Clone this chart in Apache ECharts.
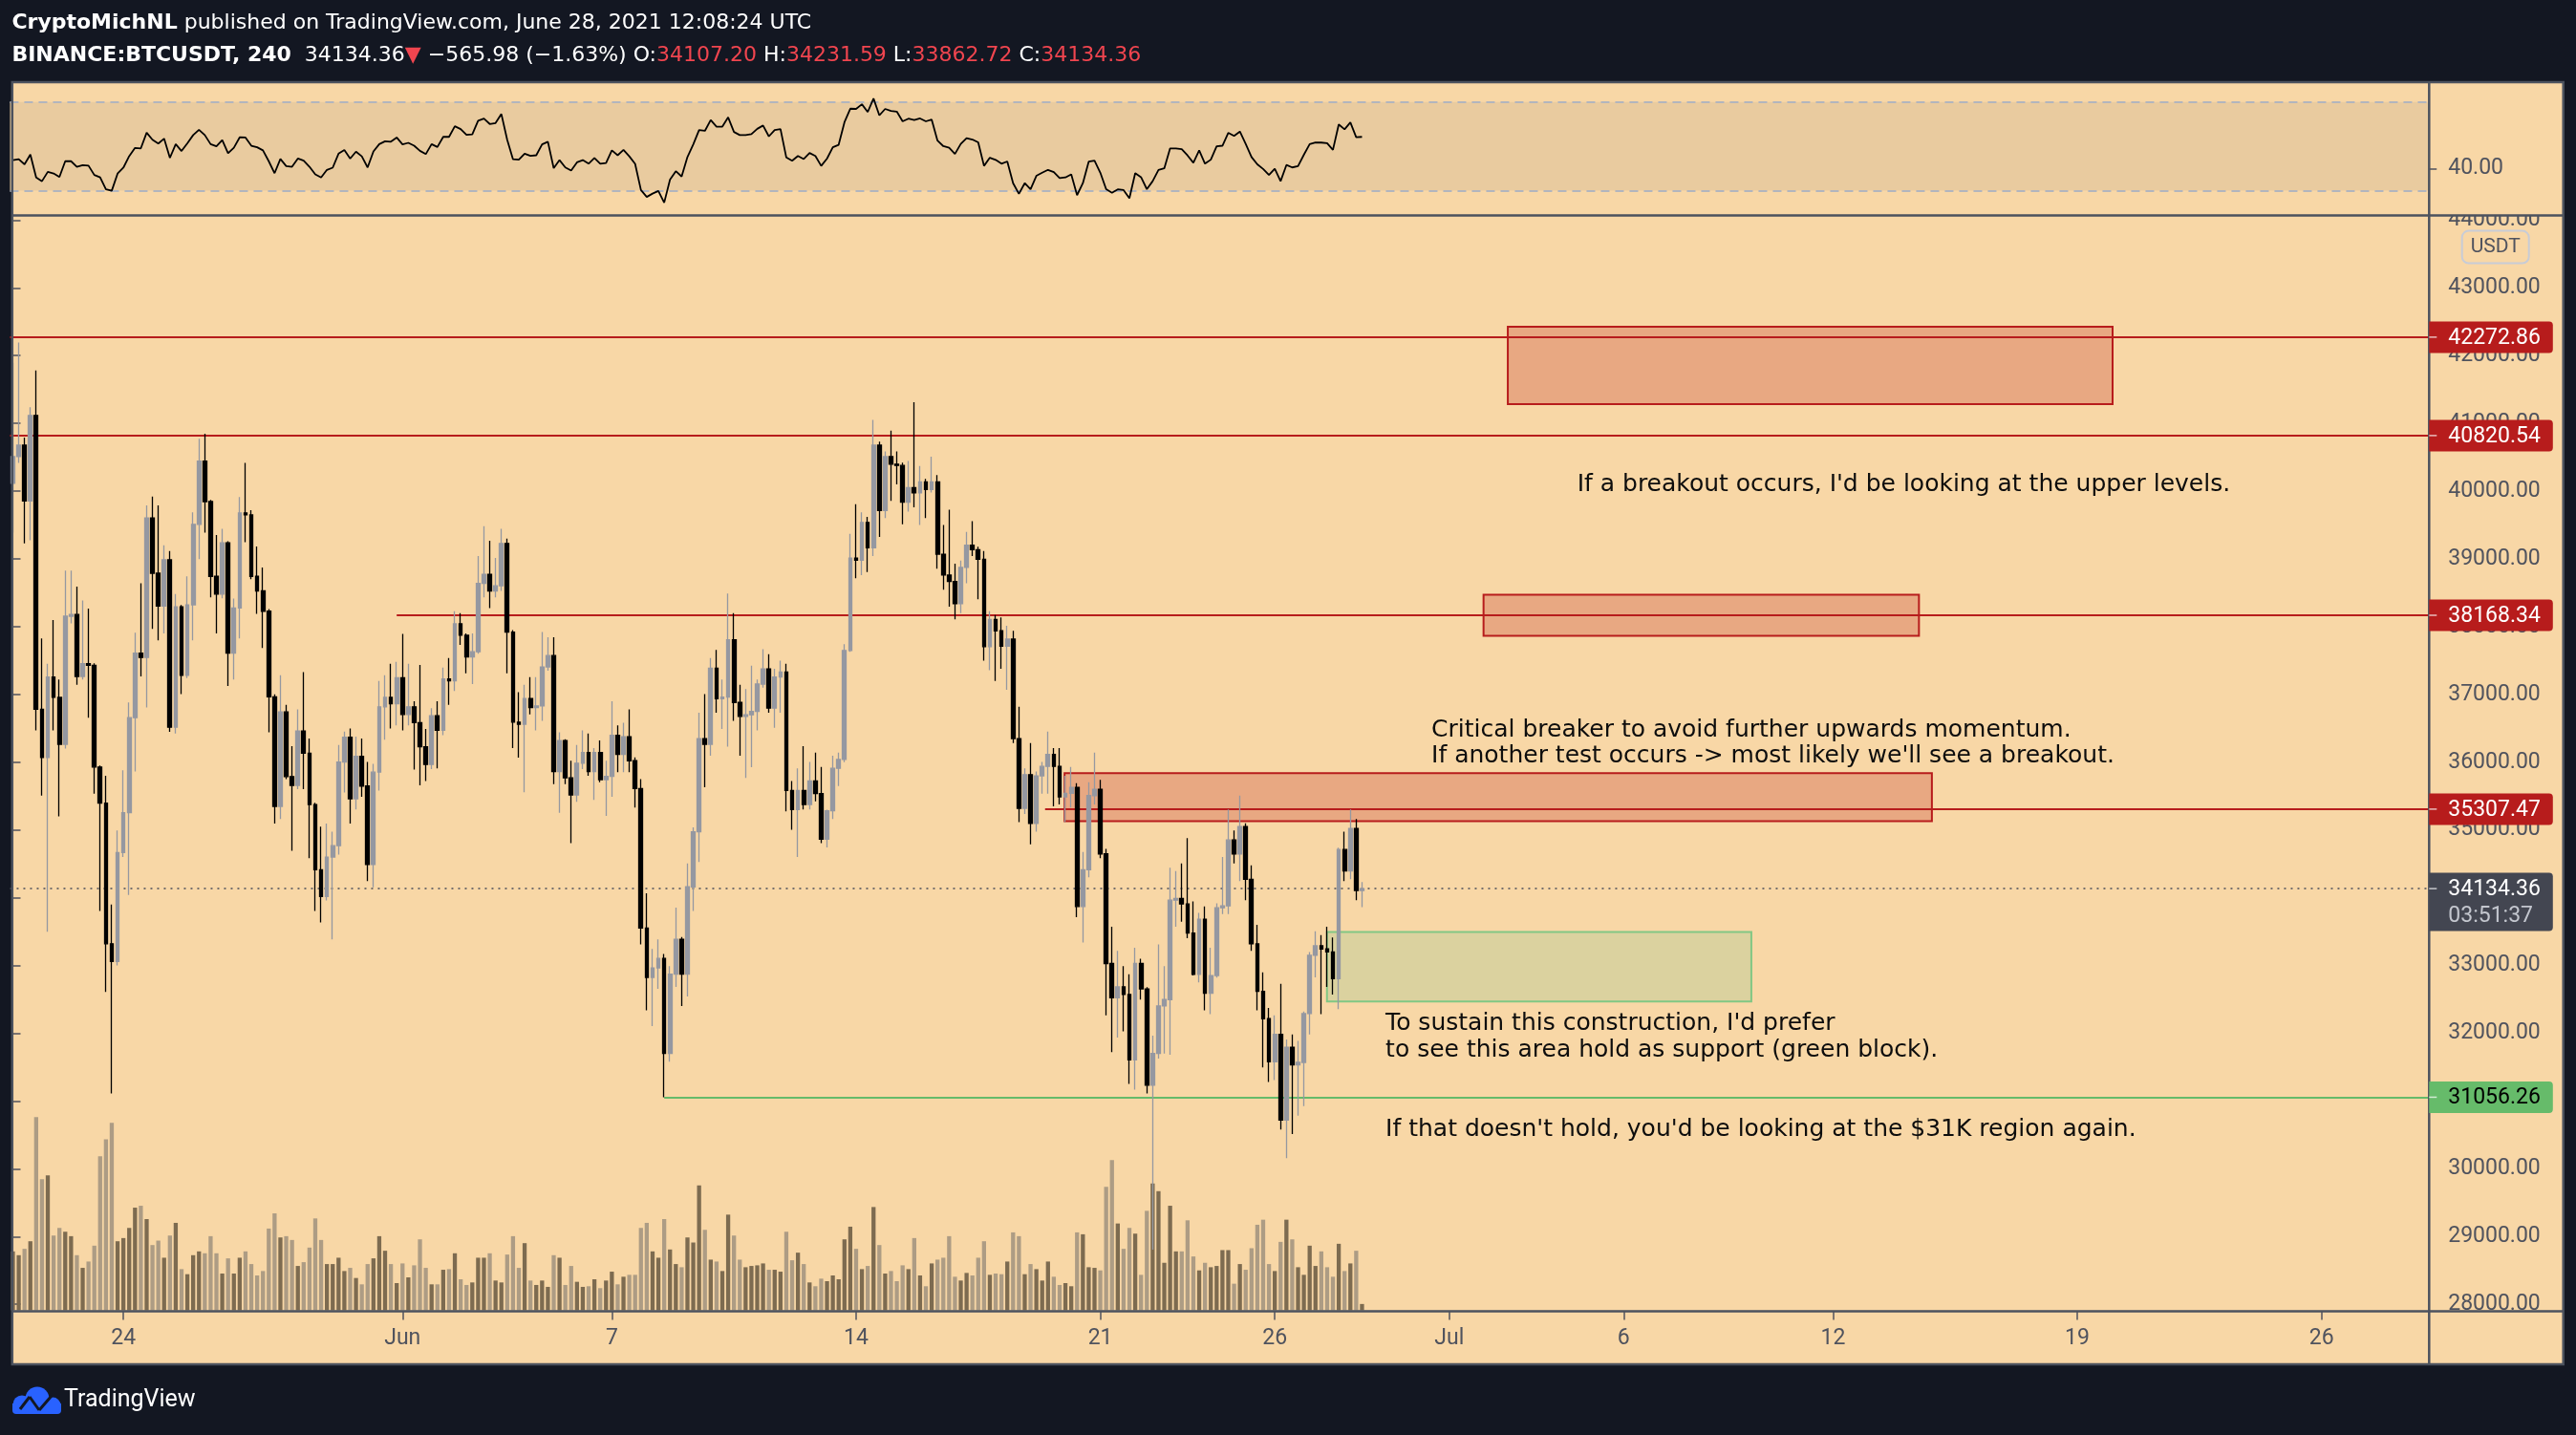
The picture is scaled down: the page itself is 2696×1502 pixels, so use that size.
<!DOCTYPE html>
<html>
<head>
<meta charset="utf-8">
<script src="https://cdn.jsdelivr.net/npm/echarts@6/dist/echarts.min.js"></script>
<style>
html,body{margin:0;padding:0;background:#131722;overflow:hidden;}
#c{width:2696px;height:1502px;}
</style>
</head>
<body>
<div id="c"></div>
<script>
// ---------------- DATA ----------------
const startTime = '2021-05-20 20:00';   // first 4h candle (UTC)
const barHours = 4;

const opens = [
40117,40510,40678,39856,41118,36780,36069,37256,36957,36265,
38154,38180,37266,37453,37430,35929,35396,33320,33058,34666,
35255,36658,37611,37545,39603,38789,38303,38986,36517,38294,
37284,38322,39510,40445,39846,38743,38481,39238,37611,38275,
39678,39650,38743,38528,38228,36966,35348,36742,35788,35657,
36461,36134,35376,34413,34020,34600,34768,36003,36367,35461,
36087,35648,34489,35854,36817,36957,36864,37247,36705,36817,
36583,36228,35966,36686,36471,37228,37200,38042,37873,37555,
37630,38640,38771,38528,38603,39229,37920,36592,36560,36938,
36807,36830,37406,37574,35863,36321,35769,35517,35985,36143,
35863,36143,35742,35790,36396,36116,36377,36022,35610,33553,
32824,32964,33104,31702,32871,33385,32871,34161,34974,36349,
36265,37387,36938,36960,37808,36882,36676,36700,36751,37153,
37378,36798,37256,37331,35582,35302,35582,35377,35723,35536,
34863,35283,35910,36041,37649,39014,38980,39538,39164,40678,
39715,40510,40398,40380,39837,40052,39977,40136,40024,40136,
39070,38762,38668,38341,38874,39201,39136,38995,37705,38107,
37939,37714,37817,36349,35320,35816,35096,35798,35938,36115,
35938,35489,35540,35629,33871,34413,35507,35601,34647,33029,
32524,32684,32572,31608,33029,32655,31234,31702,32403,32497,
33965,33990,33908,33478,32870,33684,32590,32852,33852,33880,
34853,34647,35049,34273,33319,32618,32215,31580,31982,30720,
31795,31533,31570,32290,33150,33291,33244,33200,32805,34712,
34394,35021,34107.20];

const closes = [
40510,40678,39856,41118,36780,36069,37256,36957,36265,38154,
38180,37266,37453,37430,35929,35396,33320,33058,34666,35255,
36658,37611,37545,39603,38789,38303,38986,36517,38294,37284,
38322,39510,40445,39846,38743,38481,39238,37611,38275,39678,
39650,38743,38528,38228,36966,35348,36742,35788,35657,36461,
36134,35376,34413,34020,34600,34768,36003,36367,35461,36087,
35648,34489,35854,36817,36957,36864,37247,36705,36817,36583,
36228,35966,36686,36471,37228,37200,38042,37873,37555,37630,
38640,38771,38528,38603,39229,37920,36592,36560,36938,36807,
36830,37406,37574,35863,36321,35769,35517,35985,36143,35863,
36143,35742,35790,36396,36116,36377,36022,35610,33553,32824,
32964,33104,31702,32871,33385,32871,34161,34974,36349,36265,
37387,36938,36960,37808,36882,36676,36700,36751,37153,37378,
36798,37256,37331,35582,35302,35582,35377,35723,35536,34863,
35283,35910,36041,37649,39014,38980,39538,39164,40678,39715,
40510,40398,40380,39837,40052,39977,40136,40024,40136,39070,
38762,38668,38341,38874,39201,39136,38995,37705,38107,37939,
37714,37817,36349,35320,35816,35096,35798,35938,36115,35938,
35489,35540,35629,33871,34413,35507,35601,34647,33029,32524,
32684,32572,31608,33029,32655,31234,31702,32403,32497,33965,
33990,33908,33478,32870,33684,32590,32852,33852,33880,34853,
34647,35049,34273,33319,32618,32215,31580,31982,30720,31795,
31533,31570,32290,33150,33291,33244,33200,32805,34712,34394,
35021,34107.20,34134.36];

const lows = [
39388,40417,39229,39276,36471,35508,33498,36471,35199,36200,
38050,37144,37220,36658,35536,33806,32609,31113,33000,34600,
34040,35863,37266,36807,37966,37798,37900,36450,36424,37004,
37240,37798,38995,39388,38434,37901,38420,37125,37219,37826,
39248,38700,38191,37686,36442,35096,35161,35750,34694,35601,
35601,34582,33806,33637,33960,33385,34638,35554,35096,35302,
35489,34246,34152,35582,36331,36499,36545,36471,36545,35891,
35657,35723,35900,35910,36400,36845,37051,37733,37312,37153,
37600,38434,38275,38434,38528,37312,36209,36069,35555,36705,
36471,36611,37350,35676,35255,35676,34807,35414,35900,35798,
35442,35704,35209,35489,35854,35854,35854,35330,33310,32337,
32104,32656,31056,31580,32684,32403,32543,33806,34526,35629,
36097,36732,36489,36228,36611,36097,35769,35928,36471,37100,
36732,36508,36732,35274,35003,34601,35302,35302,35424,34807,
34741,35162,35648,36000,37630,38715,38762,38808,39042,39323,
39603,39856,40099,39510,39697,39762,39500,39603,39980,38855,
38547,38294,38107,38201,38640,39042,38406,37499,37359,37200,
37378,37069,36284,35115,35236,34788,34975,35536,35536,35348,
35377,35115,35330,33712,33338,34301,35376,34582,32263,31720,
31936,32029,31253,31168,32496,31113,28805,31627,31702,31683,
33572,33647,33403,32852,32749,32337,32281,32820,33758,33758,
34507,34245,33964,33216,32337,31495,31280,31309,30579,30158,
30513,30785,30925,31982,32824,32281,32684,32571,32356,34245,
34273,33964,33862.72];

const highs = [
41894,42193,40791,41239,41782,37827,37453,38098,37219,38827,
38827,38593,38388,38266,37460,35950,35798,33900,34994,35882,
36882,37911,38640,39790,39921,39790,39201,39117,38481,38320,
38743,39687,40772,40847,39870,39351,39444,39260,38415,39912,
40417,39720,39182,38874,38260,37000,37284,36845,36237,36779,
37331,36349,35400,35049,35096,34974,36255,36452,36498,36377,
36349,36003,35975,37200,37284,37453,37481,37892,37453,36900,
37434,36489,36798,36901,37396,37536,38229,38200,37900,37901,
39042,39482,39267,39014,39444,39300,37950,37032,37144,37256,
37256,37920,37845,37845,36442,36340,36022,36255,36471,36424,
36209,36321,36022,36901,36545,36583,36779,36070,35751,34067,
33245,33385,33170,32992,33853,33420,34507,35040,36732,37004,
37537,37658,37219,38490,38201,37144,37079,37425,37219,37668,
37593,37378,37499,37453,35723,35910,36237,36003,36143,35929,
35300,36097,36143,37743,39369,39809,39687,39622,41052,40730,
40585,40894,40585,40420,40445,41314,40370,40180,40510,40239,
39500,39725,38930,38977,39397,39556,39180,39117,38229,38173,
38135,38014,37939,36817,35910,36284,35863,36003,36452,36209,
36209,35798,35929,35690,34675,35704,36143,35741,34722,33572,
33217,32992,32871,33263,33100,32680,31964,33310,32992,34441,
34395,34507,34881,33946,33777,33871,33263,33917,34600,35302,
34993,35507,35100,34479,33599,32898,32374,32263,32730,31907,
31982,31888,32320,33197,33506,33450,33572,33413,34740,34974,
35302,35162,34231.59];

// volume (relative units, hundreds of BTC)
const volumes = [
93,87,97,109,305,207,213,118,130,124,
117,87,67,77,102,243,270,296,109,114,
130,162,165,144,103,110,83,118,138,65,
57,87,93,90,117,90,58,82,58,83,
93,73,55,62,129,153,115,117,111,70,
76,99,145,111,73,73,83,62,67,51,
41,73,82,117,94,73,43,74,52,71,
112,67,41,41,64,65,90,49,40,44,
83,83,90,47,44,88,117,67,106,47,
40,47,37,87,83,40,70,45,37,38,
49,35,47,61,41,53,56,56,130,138,
93,83,144,96,73,68,115,107,197,127,
80,77,62,151,118,80,68,70,71,74,
64,64,61,124,79,91,73,44,38,50,
46,55,49,112,132,97,65,70,163,103,
58,62,46,71,65,114,55,38,74,80,
83,117,53,47,59,55,83,109,56,58,
57,77,123,117,57,73,65,47,77,53,
40,43,38,123,120,68,67,63,195,237,
137,97,130,121,56,157,200,188,75,165,
93,93,142,85,63,75,68,70,95,95,
42,73,64,98,135,143,73,62,108,143,
112,68,56,102,70,93,68,53,105,62,
74,94,10];

// RSI(14)
const rsi = [
43.8,44.2,41.9,46.3,36.0,34.3,38.5,37.8,36.2,43.3,
43.3,40.8,41.5,41.3,37.1,36.0,30.6,30.0,37.7,40.4,
45.6,49.3,49.1,56.2,53.0,51.3,53.5,44.8,51.0,47.9,
51.4,55.1,57.5,55.1,51.0,50.0,52.8,46.9,49.4,54.1,
54.0,50.3,49.6,48.2,43.3,37.9,44.3,41.1,40.8,44.5,
43.6,40.8,37.4,36.0,39.4,40.4,46.7,48.4,44.5,47.6,
45.5,40.5,47.7,51.0,52.3,52.1,54.0,50.9,51.6,50.3,
48.0,46.5,51.0,49.7,54.3,54.3,59.1,57.8,55.2,55.4,
61.6,62.5,60.1,60.5,64.6,53.0,44.2,44.0,46.7,45.7,
46.0,50.9,52.1,40.2,43.8,40.5,39.1,42.8,43.8,42.2,
44.8,42.2,42.5,48.2,46.0,48.4,45.5,42.1,30.3,27.2,
28.7,29.9,24.6,35.0,38.8,36.4,45.2,50.9,57.4,57.0,
61.9,58.9,58.9,63.1,56.5,55.1,55.1,55.5,57.9,59.4,
54.5,57.4,57.8,45.0,43.5,45.7,44.3,47.0,45.7,41.2,
44.5,49.6,50.7,60.9,67.0,66.9,69.0,65.5,71.6,64.0,
66.9,66.0,65.7,61.3,62.5,61.9,62.6,61.3,62.1,52.6,
50.1,49.4,46.6,51.1,53.7,53.1,51.8,41.2,44.9,43.9,
42.2,43.2,33.4,28.6,33.4,30.6,36.7,38.1,39.4,38.4,
35.7,36.0,37.4,28.0,33.4,43.1,43.6,38.1,30.7,29.1,
30.6,30.3,26.6,37.9,36.1,30.7,34.3,39.4,40.1,49.1,
49.1,48.7,45.9,42.6,48.2,42.2,44.0,50.0,50.3,56.1,
54.7,56.7,51.1,45.2,41.9,39.8,37.1,39.9,34.3,41.6,
40.5,41.1,46.2,51.0,51.8,51.7,51.4,48.4,59.9,57.7,
60.8,54.1,54.3];

// axis ticks
const timeTicks = ['2021-05-24 00:00','2021-06-01 00:00','2021-06-07 00:00','2021-06-14 00:00','2021-06-21 00:00','2021-06-26 00:00','2021-07-01 00:00','2021-07-06 00:00','2021-07-12 00:00','2021-07-19 00:00','2021-07-26 00:00'];
const timeTickLabels = ['24','Jun','7','14','21','26','Jul','6','12','19','26'];
const priceTicks = [28000,29000,30000,31000,32000,33000,34000,35000,36000,37000,38000,39000,40000,41000,42000,43000,44000];
const rsiTicks = [40];
const rsiBand = [30, 70];

// drawn levels
const redLevels = [42272.86, 40820.54, 38168.34, 35307.47];
const redLevelStarts = [null, null, '2021-05-31 20:00', '2021-06-19 10:00'];
const greenLevel = 31056.26;
const greenLevelStart = '2021-06-08 12:00';
const lastPrice = 34134.36;
const countdown = '03:51:37';

// rectangles: [start, end, low, high]
const redBoxes = [
  ['2021-07-02 16:18', '2021-07-20 00:18', 41284, 42427],
  ['2021-07-01 23:36', '2021-07-14 11:06', 37867, 38473],
  ['2021-06-19 23:24', '2021-07-14 20:00', 35130, 35840]
];
const greenBoxes = [
  ['2021-06-27 11:54', '2021-07-09 15:48', 32467, 33496]
];

// text notes: [lines, anchor time (left), anchor price (first line)]
const notes = [
  [["If a breakout occurs, I'd be looking at the upper levels."], '2021-07-04 16:00', 40097],
  [["Critical breaker to avoid further upwards momentum.", "If another test occurs -> most likely we'll see a breakout."], '2021-06-30 11:42', 36472],
  [["To sustain this construction, I'd prefer", "to see this area hold as support (green block)."], '2021-06-29 04:12', 32138],
  [["If that doesn't hold, you'd be looking at the $31K region again."], '2021-06-29 04:12', 30573]
];

// ---------------- BUILD ----------------
const N_CAT = 416;
const pad = n => String(n).padStart(2, '0');
const toMs = s => Date.parse(s.replace(' ', 'T') + ':00Z');
const t0 = toMs(startTime);
const stepMs = barHours * 3600e3;
const fmt = ms => { const d = new Date(ms); return d.getUTCFullYear() + '-' + pad(d.getUTCMonth() + 1) + '-' + pad(d.getUTCDate()) + ' ' + pad(d.getUTCHours()) + ':' + pad(d.getUTCMinutes()); };
const categories = Array.from({length: N_CAT}, (_, k) => fmt(t0 + k * stepMs));
const idxOf = s => (toMs(s) - t0) / stepMs;
const tickLabelOf = {};
timeTicks.forEach((t, k) => { tickLabelOf[t] = timeTickLabels[k]; });

const candles = opens.map((o, k) => [o, closes[k], lows[k], highs[k]]);
const UP_VOL = '#7d6b50', DOWN_VOL = '#ad9c84';
const volData = volumes.map((v, k) => ({value: v, itemStyle: {color: closes[k] >= opens[k] ? UP_VOL : DOWN_VOL}}));

const TAN = '#F8D7A6';
const BORDER = '#4c525e';
const AX_TXT = '#50535e';
const RED = '#B71C1C';
const GREEN = '#66BB6A';
const FRAME = {x: 12.8, y: 86, r: 2682.7, b: 1428};
const AXIS_X = 2542.3;
const PANE_SPLIT = 225.5;
const TIME_TOP = 1372.5;
const BAND = 6.086;
const GRID_LEFT = 10.46, GRID_W = N_CAT * BAND;

const X_MAX = N_CAT - 0.5;
const levelLines = [];
redLevels.forEach((p, k) => {
  const s = redLevelStarts[k] ? idxOf(redLevelStarts[k]) : -0.5;
  levelLines.push([{coord: [s, p], lineStyle: {color: RED, width: 2, type: 'solid'}}, {coord: [X_MAX, p]}]);
});
levelLines.push([{coord: [idxOf(greenLevelStart), greenLevel], lineStyle: {color: GREEN, width: 2, type: 'solid'}}, {coord: [X_MAX, greenLevel]}]);
levelLines.push([{coord: [-0.5, lastPrice], lineStyle: {color: '#4a4e59', width: 1.6, type: [2, 5]}}, {coord: [X_MAX, lastPrice]}]);

const areas = [];
redBoxes.forEach(b => areas.push([{coord: [idxOf(b[0]), b[3]], itemStyle: {color: '#E8A882', borderColor: RED, borderWidth: 2}}, {coord: [idxOf(b[1]), b[2]]}]));
greenBoxes.forEach(b => areas.push([{coord: [idxOf(b[0]), b[3]], itemStyle: {color: '#DBD29F', borderColor: '#81C784', borderWidth: 2}}, {coord: [idxOf(b[1]), b[2]]}]));

const axisFont = {color: AX_TXT, fontFamily: 'Roboto', fontSize: 23};

const option = {
  backgroundColor: '#131722',
  animation: false,
  textStyle: {fontFamily: 'Roboto'},
  grid: [
    {left: GRID_LEFT, top: FRAME.y, width: GRID_W, height: PANE_SPLIT - FRAME.y, outerBoundsMode: 'none'},
    {left: GRID_LEFT, top: PANE_SPLIT, width: GRID_W, height: TIME_TOP - PANE_SPLIT, outerBoundsMode: 'none'},
    {left: GRID_LEFT, top: 971.5, width: GRID_W, height: 400, outerBoundsMode: 'none'}
  ],
  xAxis: [
    {type: 'category', gridIndex: 0, data: categories, show: false},
    {type: 'category', gridIndex: 1, data: categories, boundaryGap: true,
      axisLine: {show: false},
      axisTick: {show: true, alignWithLabel: true, length: 9, interval: (i, v) => tickLabelOf[v] !== undefined, lineStyle: {color: AX_TXT, width: 1.5}},
      axisLabel: Object.assign({show: true, interval: (i, v) => tickLabelOf[v] !== undefined, formatter: v => tickLabelOf[v] || '', margin: 17}, axisFont),
      splitLine: {show: false}},
    {type: 'category', gridIndex: 2, data: categories, show: false},
    {type: 'value', gridIndex: 1, min: -0.5, max: X_MAX, show: false}
  ],
  yAxis: [
    {type: 'value', gridIndex: 0, position: 'right', min: 18.84, max: 78.97, splitLine: {show: false}, axisLine: {show: false},
      axisTick: {show: true, customValues: rsiTicks, length: 8, lineStyle: {color: AX_TXT, width: 1.5}},
      axisLabel: Object.assign({show: true, customValues: rsiTicks, formatter: v => Number(v).toFixed(2), margin: 20, align: 'left'}, axisFont)},
    {type: 'value', gridIndex: 1, position: 'right', min: 27897, max: 44069, splitLine: {show: false}, axisLine: {show: false},
      axisTick: {show: true, customValues: priceTicks, length: 8, lineStyle: {color: AX_TXT, width: 1.5}},
      axisLabel: Object.assign({show: true, customValues: priceTicks, formatter: v => Number(v).toFixed(2), margin: 20, align: 'left'}, axisFont)},
    {type: 'value', gridIndex: 2, min: 0, max: 603, show: false}
  ],
  series: [
    {type: 'line', name: 'RSI', xAxisIndex: 0, yAxisIndex: 0, data: rsi, symbol: 'none', silent: true, z: 5,
      lineStyle: {color: '#000000', width: 1.8},
      markArea: {silent: true, itemStyle: {color: '#E9CB9F'}, data: [[{yAxis: rsiBand[0]}, {yAxis: rsiBand[1]}]]},
      markLine: {silent: true, z: 2, symbol: 'none', label: {show: false}, lineStyle: {color: '#b2b5be', type: [9, 6], width: 2},
        data: [{yAxis: rsiBand[0]}, {yAxis: rsiBand[1]}]}},
    {type: 'line', name: 'drawings', xAxisIndex: 3, yAxisIndex: 1, data: [[-50, 30000]], symbol: 'none', silent: true, z: 1,
      lineStyle: {width: 0, opacity: 0},
      markArea: {silent: true, z: 1, data: areas},
      markLine: {silent: true, z: 1, symbol: 'none', label: {show: false}, data: levelLines}},
    {type: 'bar', name: 'Volume', xAxisIndex: 2, yAxisIndex: 2, data: volData, barWidth: 4.3, silent: true, z: 2},
    {type: 'candlestick', name: 'BTCUSDT', xAxisIndex: 1, yAxisIndex: 1, data: candles, barWidth: 4.2, silent: true, z: 4,
      itemStyle: {color: '#9598a1', color0: '#000000', borderColor: '#9598a1', borderColor0: '#000000', borderWidth: 1.3}}
  ]
};

const chart = echarts.init(document.getElementById('c'), null, {renderer: 'canvas', width: 2696, height: 1502});
chart.setOption(option);

// ---------------- overlays tied to the scales ----------------
const xPix = i => chart.convertToPixel({xAxisIndex: 3}, i);
const yPix = p => chart.convertToPixel({yAxisIndex: 1}, p);

const G = [];
G.push({type: 'rect', z: -100, silent: true, shape: {x: FRAME.x, y: FRAME.y, width: FRAME.r - FRAME.x, height: FRAME.b - FRAME.y}, style: {fill: TAN}});
// cover top of clipped 44000 label
G.push({type: 'rect', z: 90, silent: true, shape: {x: AXIS_X + 2, y: 200, width: FRAME.r - AXIS_X - 4, height: PANE_SPLIT - 200}, style: {fill: TAN}});
// frame & separators
G.push({type: 'rect', z: 100, silent: true, shape: {x: FRAME.x, y: FRAME.y, width: FRAME.r - FRAME.x, height: FRAME.b - FRAME.y}, style: {fill: null, stroke: BORDER, lineWidth: 2.5}});
G.push({type: 'line', z: 100, silent: true, shape: {x1: AXIS_X, y1: FRAME.y, x2: AXIS_X, y2: FRAME.b}, style: {stroke: BORDER, lineWidth: 2.5}});
G.push({type: 'line', z: 100, silent: true, shape: {x1: FRAME.x, y1: PANE_SPLIT, x2: FRAME.r, y2: PANE_SPLIT}, style: {stroke: BORDER, lineWidth: 2.5}});
G.push({type: 'line', z: 100, silent: true, shape: {x1: FRAME.x, y1: TIME_TOP, x2: FRAME.r, y2: TIME_TOP}, style: {stroke: BORDER, lineWidth: 2.5}});

// USDT badge
G.push({type: 'rect', z: 110, silent: true, shape: {x: 2576.7, y: 241.6, width: 70, height: 34, r: 7}, style: {fill: null, stroke: '#c8ccd6', lineWidth: 2}});
G.push({type: 'text', z: 111, silent: true, x: 2611.7, y: 259, style: {text: 'USDT', font: '21px Roboto', fill: AX_TXT, align: 'center', verticalAlign: 'middle'}});

// price labels on the axis
function priceTag(p, bg, fg) {
  const y = yPix(p);
  G.push({type: 'rect', z: 110, silent: true, shape: {x: AXIS_X, y: y - 16.5, width: 129.5, height: 33, r: [0, 4, 4, 0]}, style: {fill: bg}});
  G.push({type: 'line', z: 111, silent: true, shape: {x1: AXIS_X, y1: y, x2: AXIS_X + 8, y2: y}, style: {stroke: 'rgba(255,255,255,0.7)', lineWidth: 1.5}});
  G.push({type: 'text', z: 112, silent: true, x: AXIS_X + 20, y: y + 1, style: {text: p.toFixed(2), font: '23px Roboto', fill: fg, verticalAlign: 'middle'}});
}
redLevels.forEach(p => priceTag(p, RED, '#ffffff'));
priceTag(greenLevel, GREEN, '#000000');
(function () {
  const y = yPix(lastPrice);
  G.push({type: 'rect', z: 110, silent: true, shape: {x: AXIS_X, y: y - 16.5, width: 129.5, height: 61, r: [0, 4, 4, 0]}, style: {fill: '#434651'}});
  G.push({type: 'line', z: 111, silent: true, shape: {x1: AXIS_X, y1: y, x2: AXIS_X + 8, y2: y}, style: {stroke: 'rgba(255,255,255,0.7)', lineWidth: 1.5}});
  G.push({type: 'text', z: 112, silent: true, x: AXIS_X + 20, y: y + 1, style: {text: lastPrice.toFixed(2), font: '23px Roboto', fill: '#ffffff', verticalAlign: 'middle'}});
  G.push({type: 'text', z: 112, silent: true, x: AXIS_X + 20, y: y + 29, style: {text: countdown, font: '23px Roboto', fill: '#c3c6ce', verticalAlign: 'middle'}});
})();

// notes
notes.forEach(n => {
  const x = xPix(idxOf(n[1]));
  const y = yPix(n[2]);
  n[0].forEach((line, k) => {
    G.push({type: 'text', z: 60, silent: true, x: x, y: y + k * 27.5, style: {text: line, font: '25px "DejaVu Sans"', fill: '#0d0d0d', verticalAlign: 'middle'}});
  });
});

// header
const hdrRich = {
  b: {fontFamily: 'DejaVu Sans', fontSize: 22, fontWeight: 'bold', fill: '#ffffff'},
  n: {fontFamily: 'DejaVu Sans', fontSize: 22, fill: '#ffffff'},
  r: {fontFamily: 'DejaVu Sans', fontSize: 22, fill: '#f0454f'}
};
G.push({type: 'text', z: 120, silent: true, x: 12.4, y: 24.5, style: {text: '{b|CryptoMichNL}{n| published on TradingView.com, June 28, 2021 12:08:24 UTC}', rich: hdrRich, verticalAlign: 'middle'}});
G.push({type: 'text', z: 120, silent: true, x: 12.4, y: 58, style: {text: '{b|BINANCE:BTCUSDT, 240}{n|  34134.36}{r|▼}{n| −565.98 (−1.63%) O:}{r|34107.20}{n| H:}{r|34231.59}{n| L:}{r|33862.72}{n| C:}{r|34134.36}', rich: hdrRich, verticalAlign: 'middle'}});

// footer logo (cloud + line)
const LOGO_BLUE = '#2962ff';
G.push({type: 'rect', z: 120, silent: true, shape: {x: 13, y: 1469, width: 51, height: 11, r: [0, 0, 4, 4]}, style: {fill: LOGO_BLUE}});
G.push({type: 'circle', z: 120, silent: true, shape: {cx: 23, cy: 1470, r: 9.5}, style: {fill: LOGO_BLUE}});
G.push({type: 'circle', z: 120, silent: true, shape: {cx: 39, cy: 1464, r: 12.5}, style: {fill: LOGO_BLUE}});
G.push({type: 'circle', z: 120, silent: true, shape: {cx: 55, cy: 1471, r: 8.5}, style: {fill: LOGO_BLUE}});
[[21, 1475, 31, 1462], [31, 1462, 41, 1476], [41, 1476, 54, 1461]].forEach(s => {
  G.push({type: 'line', z: 121, silent: true, shape: {x1: s[0], y1: s[1], x2: s[2], y2: s[3]}, style: {stroke: '#131722', lineWidth: 3}});
});
G.push({type: 'text', z: 120, silent: true, x: 67, y: 1466, style: {text: 'TradingView', font: '25px Roboto', fill: '#ffffff', verticalAlign: 'middle'}});

chart.setOption({graphic: {elements: G}});
</script>
</body>
</html>
